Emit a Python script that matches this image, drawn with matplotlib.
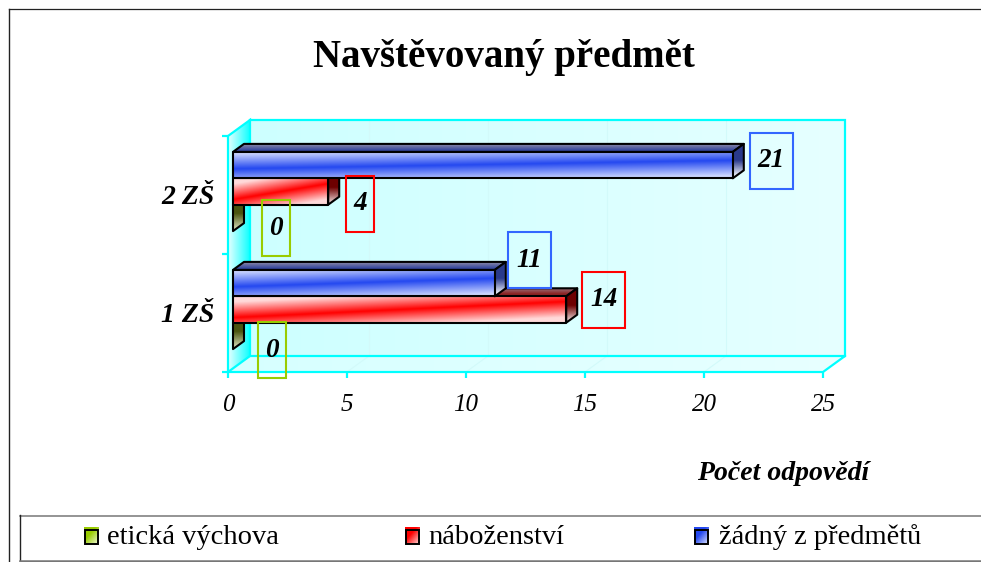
import numpy as np
import matplotlib
matplotlib.use("Agg")
import matplotlib.pyplot as plt
from matplotlib.patches import Polygon, Rectangle

categories = ["1 ZŠ", "2 ZŠ"]
series_names = ["etická výchova", "náboženství", "žádný z předmětů"]
eticka = [0, 0]
nabozenstvi = [14, 4]
zadny = [11, 21]
x_ticks = [0, 5, 10, 15, 20, 25]
title_text = "Navštěvovaný předmět"
x_label = "Počet odpovědí"

W, H = 981, 562
AX_L, AX_R, AX_B, AX_T = 228, 823, 372, 136
PX_X = 25 / (AX_R - AX_L)     # data units per pixel
PX_Y = 2 / (AX_B - AX_T)
SERIF = "Liberation Serif"

fig = plt.figure(figsize=(W / 100, H / 100), dpi=100, facecolor="white")
ax = fig.add_axes([AX_L / W, 1 - AX_B / H, (AX_R - AX_L) / W, (AX_B - AX_T) / H])
ax.set_xlim(0, 25)
ax.set_ylim(0, 2)
ax.set_autoscale_on(False)
ax.patch.set_visible(False)

order = [0]


def next_z():
    order[0] += 1
    return 2 + order[0] * 0.01


def hex2rgb(c):
    return np.array(matplotlib.colors.to_rgb(c))


def grad_poly(target, verts, func, edge=None, lw=1.5):
    """Fill a polygon with an image whose colour is func(u, v), u/v in 0..1 over its bbox."""
    verts = np.array(verts, float)
    x0, y0 = verts.min(axis=0)
    x1, y1 = verts.max(axis=0)
    u, v = np.meshgrid(np.linspace(0, 1, 160), np.linspace(0, 1, 80))
    img = np.clip(func(u, v), 0, 1)
    z = next_z()
    im = target.imshow(img, extent=(x0, x1, y0, y1), origin="lower", aspect="auto",
                       interpolation="bilinear", zorder=z)
    clip = Polygon(verts, closed=True, transform=target.transData)
    im.set_clip_box(fig.bbox)
    im.set_clip_path(clip)
    if edge:
        target.add_patch(Polygon(verts, closed=True, fill=False, edgecolor=edge, lw=lw,
                                 zorder=z + 0.001, clip_on=False, joinstyle="round"))


def lerp(a, b, t):
    t = np.clip(t, 0, 1)[..., None]
    return hex2rgb(a) * (1 - t) + hex2rgb(b) * t


# ---- 3D walls ----
DX, DY = 22 * PX_X, 16 * PX_Y
CYAN = "#00FFFF"
grad_poly(ax, [(0, 0), (DX, DY), (25, DY), (25 + DX, DY), (25 + DX, 2 + DY), (DX, 2 + DY)],
          lambda u, v: lerp("#CCFFFF", "#E6FFFF", u))
grad_poly(ax, [(0, 0), (DX, DY), (25 + DX, DY), (25, 0)],
          lambda u, v: lerp("#D6FFFF", "#E8FFFF", u))
grad_poly(ax, [(0, 0), (DX, DY), (DX, 2 + DY), (0, 2)],
          lambda u, v: lerp("#E6FFFF", "#19FFFF", u * 1.05))

z_grid = next_z()
for t in x_ticks[1:-1]:
    ax.plot([t + DX, t + DX], [DY, 2 + DY], color="#D2FAFA", lw=0.8, zorder=z_grid, clip_on=False)
    ax.plot([t, t + DX], [0, DY], color="#D2FAFA", lw=0.8, zorder=z_grid, clip_on=False)

z_wall = next_z()
ax.plot([DX, 25 + DX, 25 + DX, 25, 0, 0, DX, DX, 25 + DX],
        [2 + DY, 2 + DY, DY, 0, 0, 2, 2 + DY, DY, DY],
        color=CYAN, lw=1.6, zorder=z_wall, clip_on=False, solid_joinstyle="miter")
ax.plot([0, DX], [0, DY], color=CYAN, lw=1.6, zorder=z_wall, clip_on=False)

# ---- bars ----
BAR_H = 26.4 * PX_Y
BAR_DX, BAR_DY = 11 * PX_X, 8 * PX_Y
OFF_X, OFF_Y = 5 * PX_X, 3.5 * PX_Y

styles = {
    0: dict(main="#99CC00", edge="#F2F8D8", top="#56661A", side="#4A5510", light="#C8CFA8"),
    1: dict(main="#FF0000", edge="#FFDADA", top="#8C1E1E", side="#6E0000", light="#E0C8C8"),
    2: dict(main="#2448F0", edge="#D0DAFF", top="#33459E", side="#2A3A8C", light="#E6EAF6"),
}
slopes = {0: 0.2, 1: 0.6, 2: 0.32}


def draw_bar(cat, idx, val):
    st = styles[idx]
    yc = cat + 0.5 + (idx - 1) * BAR_H + OFF_Y
    x0, x1 = OFF_X, val + OFF_X
    y0, y1 = yc - BAR_H / 2, yc + BAR_H / 2
    # top face
    if val > 0:
        top = [(x0, y1), (x1, y1), (x1 + BAR_DX, y1 + BAR_DY), (x0 + BAR_DX, y1 + BAR_DY)]
        grad_poly(ax, top, lambda u, v: lerp(st["top"], "#A09AA8", np.abs(v - 0.2) * 1.0),
                  edge="black")
    # side face
    side = [(x1, y0), (x1 + BAR_DX, y0 + BAR_DY), (x1 + BAR_DX, y1 + BAR_DY), (x1, y1)]
    grad_poly(ax, side, lambda u, v: lerp(st["side"], st["light"], (0.55 - v) * 2.4 - 0.1),
              edge="black")
    # front face
    if val > 0:
        s = slopes[idx]
        front = [(x0, y0), (x1, y0), (x1, y1), (x0, y1)]
        grad_poly(ax, front,
                  lambda u, v: lerp(st["main"], st["edge"],
                                    np.abs(v - 0.5 - s * (u - 0.5)) * 1.7),
                  edge="black")


for cat in (1, 0):
    for idx, vals in enumerate((eticka, nabozenstvi, zadny)):
        draw_bar(cat, idx, vals[cat])

# ---- value label boxes ----
box_colors = {0: "#99CC00", 1: "#FF0000", 2: "#3366FF"}
# (category, series) -> label box gap from bar end and vertical shift, in pixels
box_gap = {(1, 2): (17, -4.5), (1, 1): (18, 12.5), (1, 0): (29, 10.5),
           (0, 2): (13, -23), (0, 1): (16, -10), (0, 0): (25, 14.5)}
z_lab = next_z() + 1
for (cat, idx), (gap, shift) in box_gap.items():
    val = (eticka, nabozenstvi, zadny)[idx][cat]
    w = (43 if val >= 10 else 28) * PX_X
    h = 56 * PX_Y
    xl = val + OFF_X + gap * PX_X
    yc = cat + 0.5 + (idx - 1) * BAR_H + OFF_Y - shift * PX_Y
    ax.add_patch(Rectangle((xl, yc - h / 2), w, h, fill=False, edgecolor=box_colors[idx],
                           lw=1.5, zorder=z_lab, clip_on=False))
    ax.text(xl + w / 2, yc, str(val), ha="center", va="center", family=SERIF,
            style="italic", weight="bold", fontsize=19.5, color="black", zorder=z_lab)

# ---- axes ----
for name, sp in ax.spines.items():
    sp.set_visible(False)
ax.set_xticks(x_ticks)
ax.set_xticklabels([str(t) for t in x_ticks], family=SERIF, style="italic", fontsize=18)
ax.set_yticks([0, 1, 2])
ax.set_yticklabels([])
ax.set_yticks([0.5, 1.5], minor=True)
ax.set_yticklabels(categories, minor=True, family=SERIF, style="italic", weight="bold", fontsize=20)
ax.tick_params(axis="x", which="major", color=CYAN, width=1.6, length=4, pad=11.5)
ax.tick_params(axis="y", which="major", color=CYAN, width=1.6, length=4)
ax.tick_params(axis="y", which="minor", length=0, pad=10)

# ---- overlay: border, title, legend ----
ov = fig.add_axes([0, 0, 1, 1], zorder=5)
ov.set_xlim(0, W)
ov.set_ylim(H, 0)
ov.set_autoscale_on(False)
ov.axis("off")

ov.plot([9, 9], [H, 8.5], color="#222222", lw=1.0)
ov.plot([9, W], [8.5, 8.5], color="#222222", lw=0.9)
ov.text(504, 58, title_text, ha="center", va="center", family=SERIF, weight="bold",
        fontsize=28, color="black")
ov.text(783, 473, x_label, ha="center", va="center", family=SERIF, style="italic",
        weight="bold", fontsize=20, color="black")

ov.add_patch(Rectangle((19.5, 515.5), W, 45, facecolor="white", edgecolor="none"))
ov.plot([19.5, W], [515.5, 515.5], color="#777777", lw=1.1)
ov.plot([19.5, 19.5], [515, 561], color="#222222", lw=1.0)
ov.plot([19.5, W], [561, 561], color="#777777", lw=1.8)

legend_x = [84, 405, 694]
legend_tx = [107, 428, 719]
for name, mx, tx, idx in zip(series_names, legend_x, legend_tx, range(3)):
    st = styles[idx]
    grad_poly(ov, [(mx, 527), (mx + 15, 527), (mx + 15, 544), (mx, 544)],
              lambda u, v: lerp(st["main"], "#FFFFFF", ((u + v) * 0.5 - 0.4) * 1.5))
    ov.add_patch(Rectangle((mx + 1, 530), 13, 14, fill=False, edgecolor="black",
                           lw=1.4, zorder=6))
    ov.text(tx, 537, name, ha="left", va="center", family=SERIF, fontsize=20.5, color="black")

fig.savefig("out.png", dpi=100)
